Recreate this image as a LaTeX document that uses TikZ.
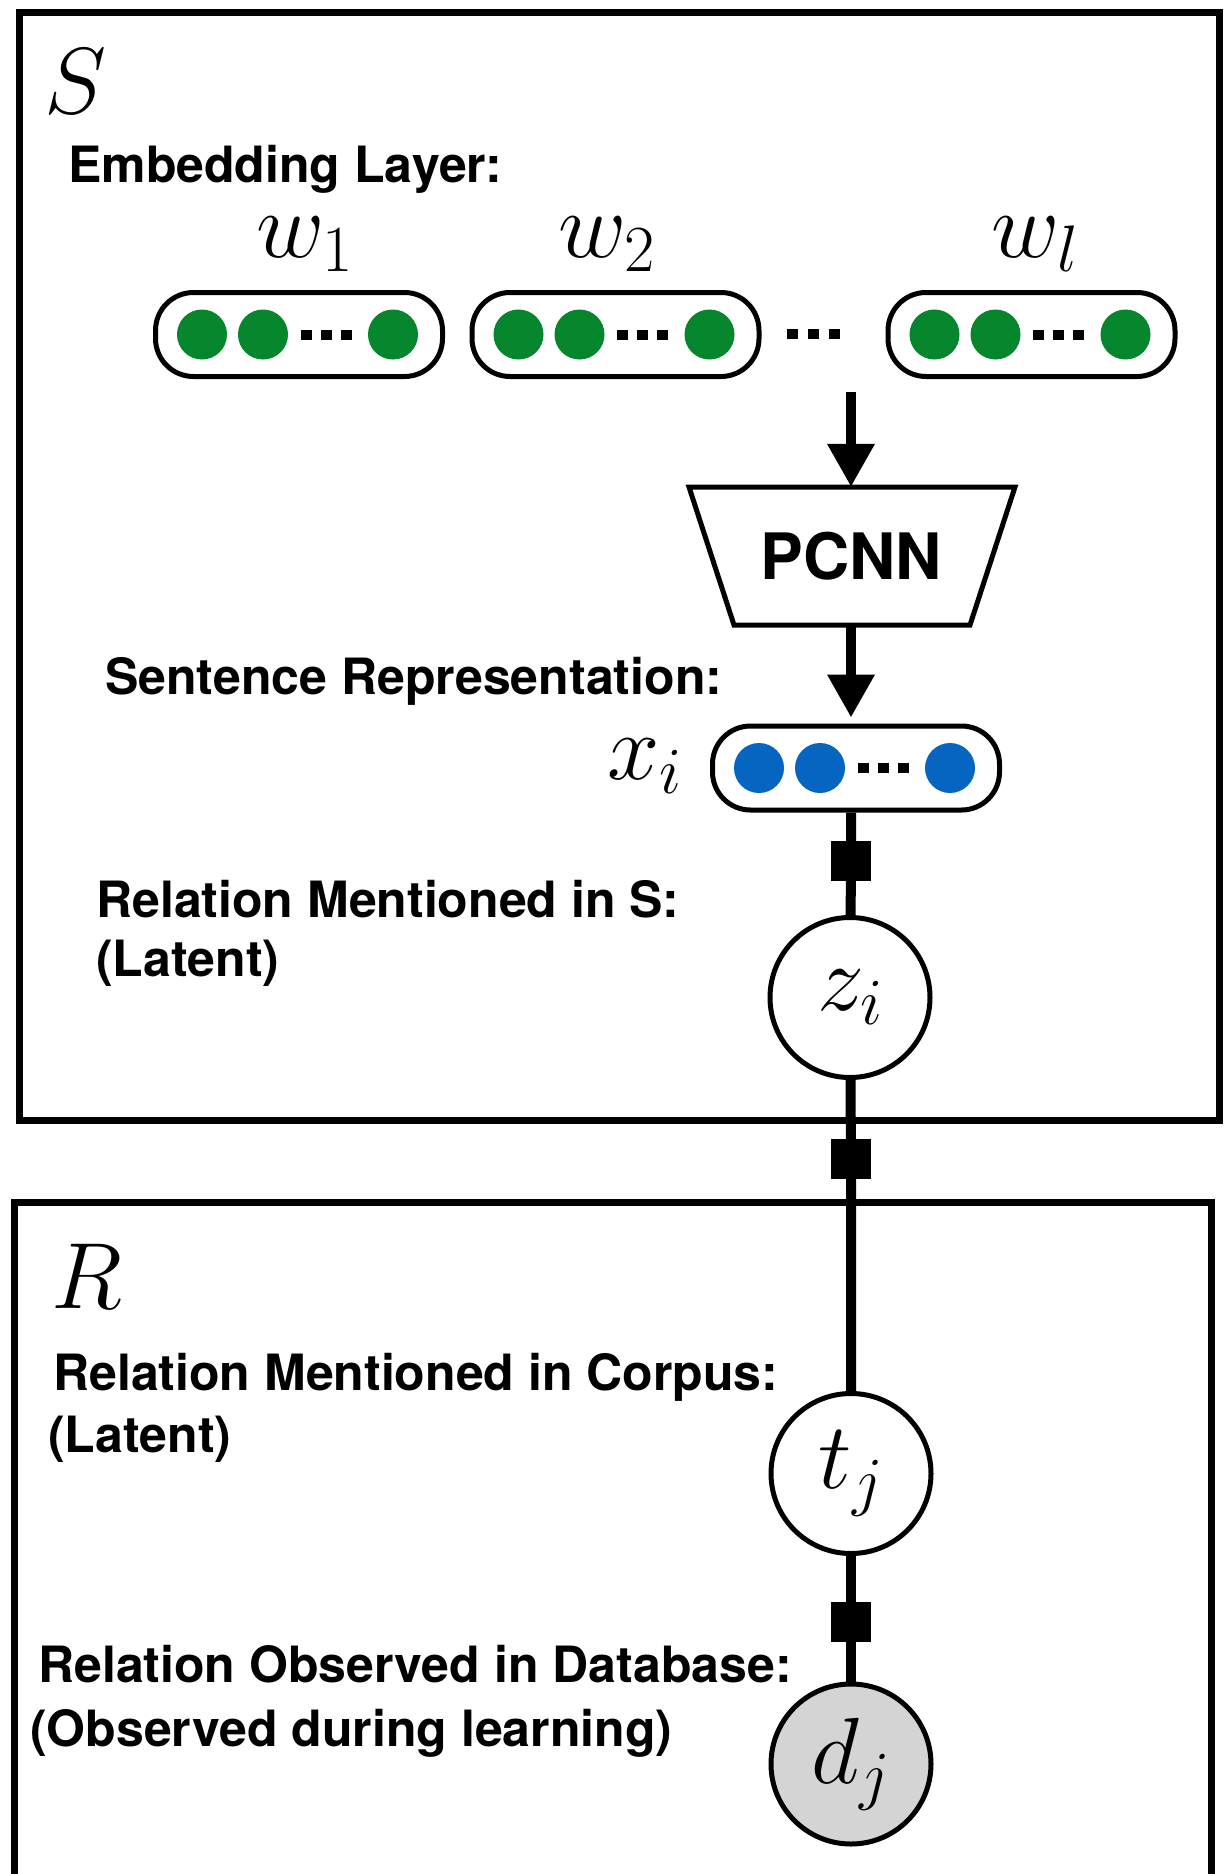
\RequirePackage{fix-cm}
\documentclass[tikz,border=0pt]{standalone}
\usepackage{fontspec}
\newfontfamily\hv{TeX Gyre Heros}
\usetikzlibrary{arrows.meta}
\definecolor{dotgreen}{RGB}{5,134,45}
\definecolor{dotblue}{RGB}{6,101,192}
\definecolor{obsgray}{RGB}{212,212,212}
\begin{document}
\begin{tikzpicture}[x=1pt,y=-1pt,
 plate/.style={draw, line width=7pt},
 lbl/.style={font=\hv\bfseries\fontsize{50}{60}\selectfont, anchor=base west, inner sep=0},
 mth/.style={font=\fontsize{94}{110}\selectfont, inner sep=0},
 vecbox/.style={draw, line width=5pt, rounded corners=38pt, minimum width=287pt, minimum height=84pt, inner sep=0},
 var/.style={circle, draw, line width=5pt, minimum size=160pt, inner sep=0, font=\fontsize{94}{110}\selectfont, fill=white},
 factor/.style={fill=black, minimum size=40pt, inner sep=0},
 conn/.style={line width=10pt},
 arr/.style={line width=10pt, -{Triangle[width=45pt,length=43pt]}},
]
\clip (0,0) rectangle (1231,1874);
\fill[white] (0,0) rectangle (1231,1874);

% plates
\draw[plate] (19,12) rectangle (1219,1120);
\draw[plate] (14,1202) rectangle (1211,1900);

\node[mth] (S) at (76,81) {$S$};
\node[mth] (R) at (87,1276) {$R$};

% labels
\node[lbl] (emb) at (68,182) {Embedding Layer:};
\node[lbl] (sent) at (105,694) {Sentence Representation:};
\node[lbl] (relS) at (96,917) {Relation Mentioned in S:};
\node[lbl] (latS) at (96,976) {(Latent)};
\node[lbl] (relC) at (53,1390) {Relation Mentioned in Corpus:};
\node[lbl] (latC) at (48,1452) {(Latent)};
\node[lbl] (relD) at (38,1682) {Relation Observed in Database:};
\node[lbl] (obsD) at (30,1746) {(Observed during learning)};

% word labels
\node[mth, anchor=base] (w1) at (305,257) {$w_1$};
\node[mth, anchor=base] (w2) at (607,257) {$w_2$};
\node[mth, anchor=base] (wl) at (1035,257) {$w_l$};
\node[mth, anchor=base] (xlab) at (645,779) {$x_i$};

% vector boxes
\node[vecbox] (v1) at (299,334.5) {};
\node[vecbox] (v2) at (615.5,334.5) {};
\node[vecbox] (v3) at (1031.5,334.5) {};
\node[vecbox] (xi) at (856,768) {};
\foreach \b/\c in {v1/dotgreen, v2/dotgreen, v3/dotgreen, xi/dotblue}{
  \foreach \dx in {-97,-36,94}
    \fill[\c] ([xshift=\dx pt]\b.center) circle[radius=25pt];
  \foreach \dx in {7,27,47}
    \fill ([xshift=\dx pt]\b.center) ++(-5.5,-5) rectangle ++(11,10);
}
\foreach \x in {792.5,813.5,834.5}
  \fill (\x-5.5,329) rectangle ++(11,10);

% PCNN
\node[font=\hv\bfseries\fontsize{64}{70}\selectfont, minimum width=236pt, minimum height=138pt, inner sep=0] (pcnn) at (851,556) {PCNN};
\draw[line width=5pt, line join=miter] (689,487) -- (1015,487) -- (970,625) -- (734,625) -- cycle;

\coordinate (a1) at (851,392);
\draw[arr] (a1) -- (pcnn.north);
\draw[arr] (pcnn.south) -- ([yshift=6pt]pcnn.south |- xi.north);

% factor graph
\node[factor] (f1) at (851,861) {};
\node[factor] (f2) at (851,1159) {};
\node[factor] (f3) at (851,1622) {};
\node[var] (zi) at (850,997.5) {$z_i$};
\node[var] (tj) at (851,1473.5) {$t_j$};
\node[var, fill=obsgray] (dj) at (851,1764) {$d_j$};

\draw[conn] (f1 |- xi.south) -- (f1) -- (zi);
\draw[conn] (zi) -- (f2) -- (tj);
\draw[conn] (tj) -- (f3) -- (dj);
\end{tikzpicture}
\end{document}
